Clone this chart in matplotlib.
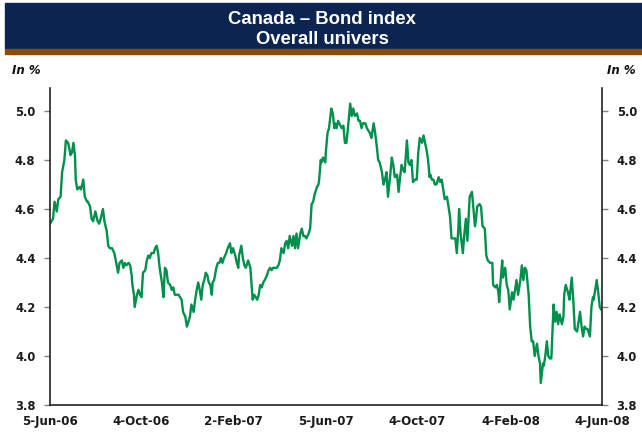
import numpy as np
import pandas as pd
import matplotlib
matplotlib.use('Agg')
import matplotlib.pyplot as plt
from matplotlib.patches import Rectangle

# Canada bond index, overall universe yield (in %)
start_date = '2006-06-05'
days = [
    0, 4, 6, 9, 11, 14, 16, 19, 21, 24,
    26, 27, 29, 31, 33, 34, 36, 39, 41, 44,
    46, 49, 50, 53, 55, 57, 60, 63, 65, 67,
    70, 72, 75, 77, 79, 82, 85, 87, 90, 92,
    95, 97, 99, 101, 104, 106, 108, 109, 111, 112,
    115, 117, 119, 121, 123, 126, 128, 130, 132, 134,
    137, 139, 141, 143, 145, 148, 150, 152, 154, 156,
    159, 161, 163, 165, 168, 170, 172, 174, 176, 179,
    181, 183, 185, 187, 190, 192, 194, 196, 198, 200,
    202, 204, 206, 208, 210, 212, 214, 215, 217, 220,
    222, 224, 226, 228, 230, 233, 235, 238, 240, 242,
    245, 247, 249, 250, 253, 255, 257, 259, 262, 265,
    267, 268, 270, 272, 274, 276, 278, 280, 282, 284,
    287, 289, 291, 293, 295, 298, 300, 302, 304, 306,
    309, 311, 313, 315, 317, 320, 322, 324, 326, 328,
    331, 333, 335, 337, 339, 342, 344, 346, 348, 350,
    353, 355, 356, 358, 359, 361, 364, 365, 367, 369,
    372, 374, 376, 377, 379, 381, 384, 386, 388, 390,
    392, 394, 397, 399, 401, 403, 406, 408, 410, 412,
    414, 417, 419, 421, 423, 425, 427, 428, 430, 432,
    434, 436, 439, 441, 443, 445, 447, 450, 452, 454,
    456, 459, 461, 463, 465, 467, 469, 472, 474, 476,
    478, 480, 483, 485, 487, 489, 492, 494, 496, 498,
    500, 502, 503, 505, 507, 509, 511, 514, 516, 518,
    520, 522, 525, 527, 529, 531, 533, 536, 538, 540,
    541, 543, 546, 548, 550, 552, 554, 555, 558, 560,
    562, 563, 565, 568, 570, 572, 575, 577, 579, 582,
    585, 586, 589, 591, 593, 594, 596, 598, 599, 602,
    604, 606, 608, 611, 613, 615, 617, 619, 622, 624,
    626, 628, 630, 633, 635, 637, 639, 641, 644, 646,
    648, 649, 652, 653, 655, 657, 659, 661, 663, 666,
    668, 670, 672, 674, 677, 679, 680, 682, 685, 687,
    690, 692, 694, 697, 699, 701, 703, 705, 707, 709,
    711, 712, 714, 716, 718, 719, 721, 723, 725, 727,
    729,
]
bond_yield = [
    4.54, 4.56, 4.63, 4.59, 4.64, 4.65, 4.75, 4.80, 4.88, 4.87,
    4.84, 4.82, 4.83, 4.87, 4.82, 4.72, 4.68, 4.69, 4.68, 4.72,
    4.65, 4.63, 4.63, 4.61, 4.56, 4.55, 4.59, 4.55, 4.54, 4.56,
    4.60, 4.55, 4.51, 4.45, 4.44, 4.44, 4.42, 4.39, 4.34, 4.38,
    4.39, 4.36, 4.38, 4.37, 4.38, 4.37, 4.33, 4.29, 4.25, 4.20,
    4.25, 4.27, 4.25, 4.24, 4.34, 4.35, 4.39, 4.41, 4.40, 4.42,
    4.42, 4.44, 4.45, 4.42, 4.36, 4.30, 4.24, 4.36, 4.35, 4.30,
    4.29, 4.27, 4.28, 4.25, 4.25, 4.25, 4.24, 4.23, 4.18, 4.16,
    4.12, 4.14, 4.16, 4.21, 4.18, 4.23, 4.27, 4.30, 4.27, 4.23,
    4.29, 4.31, 4.34, 4.33, 4.30, 4.29, 4.25, 4.30, 4.31, 4.36,
    4.38, 4.38, 4.40, 4.38, 4.40, 4.42, 4.44, 4.46, 4.42, 4.44,
    4.41, 4.38, 4.36, 4.41, 4.45, 4.40, 4.37, 4.36, 4.39, 4.36,
    4.27, 4.23, 4.25, 4.24, 4.23, 4.25, 4.29, 4.28, 4.30, 4.31,
    4.33, 4.35, 4.36, 4.35, 4.36, 4.36, 4.36, 4.37, 4.39, 4.44,
    4.42, 4.46, 4.47, 4.44, 4.49, 4.45, 4.49, 4.44, 4.50, 4.44,
    4.50, 4.52, 4.49, 4.49, 4.48, 4.50, 4.52, 4.62, 4.63, 4.66,
    4.69, 4.70, 4.72, 4.80, 4.79, 4.81, 4.79, 4.84, 4.91, 4.93,
    5.01, 4.99, 4.93, 4.95, 4.93, 4.96, 4.94, 4.93, 4.94, 4.87,
    4.87, 4.93, 5.03, 4.98, 5.01, 4.98, 4.99, 4.96, 4.96, 4.93,
    4.95, 4.95, 4.93, 4.92, 4.91, 4.89, 4.93, 4.95, 4.91, 4.86,
    4.80, 4.79, 4.75, 4.70, 4.72, 4.75, 4.65, 4.74, 4.81, 4.78,
    4.73, 4.74, 4.67, 4.73, 4.78, 4.76, 4.75, 4.88, 4.79, 4.78,
    4.80, 4.71, 4.72, 4.72, 4.83, 4.89, 4.87, 4.90, 4.87, 4.84,
    4.80, 4.73, 4.74, 4.72, 4.72, 4.70, 4.70, 4.73, 4.71, 4.72,
    4.68, 4.64, 4.65, 4.61, 4.57, 4.48, 4.48, 4.48, 4.42, 4.52,
    4.60, 4.50, 4.42, 4.50, 4.56, 4.47, 4.59, 4.65, 4.67, 4.60,
    4.53, 4.55, 4.61, 4.62, 4.61, 4.53, 4.52, 4.41, 4.39, 4.38,
    4.38, 4.29, 4.28, 4.29, 4.26, 4.22, 4.31, 4.39, 4.32, 4.36,
    4.29, 4.27, 4.19, 4.26, 4.23, 4.27, 4.31, 4.25, 4.31, 4.37,
    4.31, 4.36, 4.35, 4.25, 4.12, 4.06, 4.06, 4.00, 4.05, 4.00,
    3.97, 3.89, 3.97, 3.96, 4.00, 4.06, 4.00, 3.99, 3.99, 4.21,
    4.14, 4.18, 4.13, 4.17, 4.13, 4.16, 4.25, 4.29, 4.26, 4.23,
    4.32, 4.23, 4.11, 4.10, 4.14, 4.18, 4.12, 4.08, 4.12, 4.11,
    4.11, 4.10, 4.08, 4.20, 4.24, 4.23, 4.27, 4.31, 4.26, 4.20,
    4.19,
]

tick_dates = ['2006-06-05', '2006-10-04', '2007-02-02', '2007-06-05',
              '2007-10-04', '2008-02-04', '2008-06-04']
tick_labels = ['5-Jun-06', '4-Oct-06', '2-Feb-07', '5-Jun-07',
               '4-Oct-07', '4-Feb-08', '4-Jun-08']
y_ticks = [3.8, 4.0, 4.2, 4.4, 4.6, 4.8, 5.0]

dates = pd.Timestamp(start_date) + pd.to_timedelta(days, unit='D')
tick_pos = pd.to_datetime(tick_dates)

plt.rcParams['font.family'] = ['DejaVu Sans']

W, H = 642, 440
fig = plt.figure(figsize=(W / 100, H / 100), dpi=100)

# header band
fig.patches.append(Rectangle((5 / W, 1 - 49 / H), 1 - 5 / W, 46 / H,
                             transform=fig.transFigure, color='#0b2550', zorder=0))
fig.patches.append(Rectangle((5 / W, 1 - 54 / H), 1 - 5 / W, 5 / H,
                             transform=fig.transFigure, color='#8a4a0c', zorder=0))
title_font = dict(family='Liberation Sans', color='white', fontsize=13.3,
                  fontweight='bold', ha='center', va='center')
fig.text(0.502, 1 - 19 / H, 'Canada – Bond index', **title_font)
fig.text(0.502, 1 - 40 / H, 'Overall univers', **title_font)

fig.text(12 / W, 1 - 70 / H, 'In %', fontsize=8.5, fontweight='bold',
         fontstyle='italic', ha='left', va='center', color='#111111')
fig.text(636 / W, 1 - 70 / H, 'In %', fontsize=8.5, fontweight='bold',
         fontstyle='italic', ha='right', va='center', color='#111111')

ax = fig.add_axes([50 / W, 1 - 405 / H, 552 / W, 317 / H])
ax.plot(dates, bond_yield, color='#00904c', linewidth=1.7)

ax.set_xlim(tick_pos[0], tick_pos[-1])
ax.set_ylim(3.8, 3.8 + 317 / 245)
ax.set_yticks(y_ticks)
ax.set_yticklabels([f'{v:.1f}' for v in y_ticks])
ax.set_xticks(tick_pos)
ax.set_xticklabels(tick_labels)

ax.spines['top'].set_visible(False)
for s in ['left', 'right', 'bottom']:
    ax.spines[s].set_color('#222222')
    ax.spines[s].set_linewidth(1.2)

ax.tick_params(axis='y', which='both', left=True, right=True, labelleft=True,
               labelright=True, direction='out', length=4.5, width=1,
               color='#808080', labelsize=8.3, pad=6, labelcolor='#1a1a1a')
ax.tick_params(axis='x', length=0, labelsize=8.6, pad=7, labelcolor='#1a1a1a')
for lbl in ax.get_xticklabels() + ax.get_yticklabels():
    lbl.set_fontweight('bold')
for t in ax.yaxis.get_major_ticks():
    t.label2.set_fontweight('bold')

fig.savefig('out.png', dpi=100)
